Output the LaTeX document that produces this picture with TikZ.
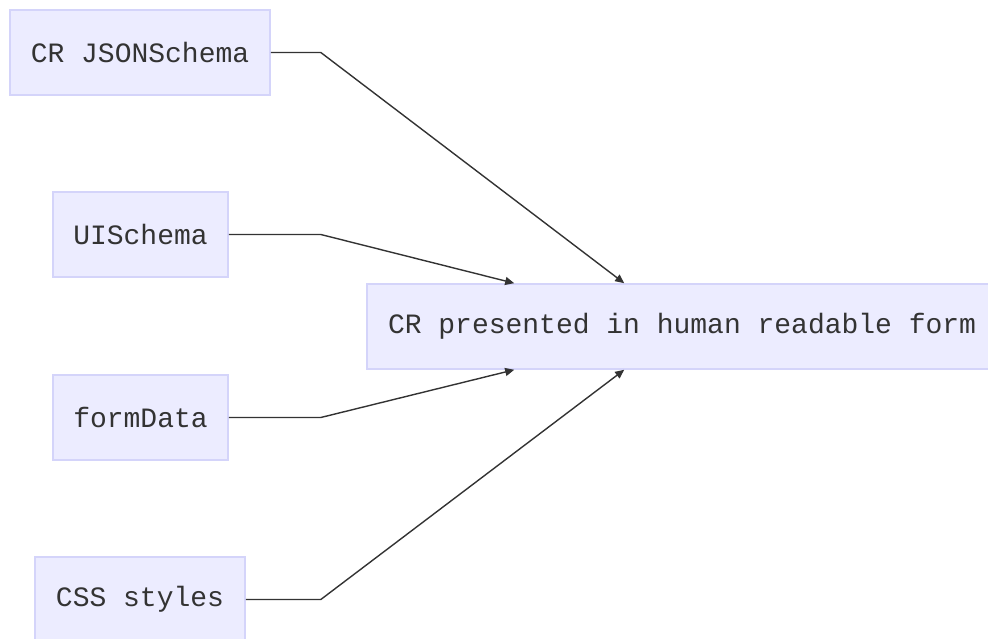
\documentclass[tikz,border=0pt]{standalone}
\usepackage{fontspec}
\setmonofont{Liberation Mono}
\usetikzlibrary{arrows.meta,calc}
\definecolor{boxfill}{HTML}{ECECFF}
\definecolor{boxline}{HTML}{D4D4FA}
\definecolor{txt}{HTML}{333333}
\definecolor{edge}{HTML}{333333}
\begin{document}
\begin{tikzpicture}[x=1pt,y=-1pt,
  box/.style={draw=boxline,line width=1.6pt,fill=boxfill,inner sep=0pt,
    minimum height=85pt,text=txt,font=\ttfamily\fontsize{28}{30}\selectfont},
  link/.style={draw=edge,line width=1.4pt,-{Triangle[length=9pt,width=8pt]}}]
\useasboundingbox (0,0) rectangle (988,639);
\clip (0,0) rectangle (988,639);
\node[box,minimum width=260pt] (a) at (140,52.5) {CR JSONSchema};
\node[box,minimum width=175pt] (b) at (140.5,234.5) {UISchema};
\node[box,minimum width=175pt] (c) at (140.5,417.5) {formData};
\node[box,minimum width=210pt,minimum height=85pt] (d) at (140,599.5) {CSS styles};
\node[box,minimum width=640pt] (e) at (687,326.5) {\makebox[598pt][l]{CR presented in human readable form}};
\coordinate (t1) at ($(e.north west)+(258,0)$);
\coordinate (t2) at ($(e.north west)+(148,0)$);
\coordinate (t3) at ($(e.south west)+(148,0)$);
\coordinate (t4) at ($(e.south west)+(258,0)$);
\draw[link] (a.east) -- ++(50,0) -- (t1);
\draw[link] (b.east) -- ++(92,0) -- (t2);
\draw[link] (c.east) -- ++(92,0) -- (t3);
\draw[link] (d.east) -- ++(75,0) -- (t4);
\end{tikzpicture}
\end{document}
